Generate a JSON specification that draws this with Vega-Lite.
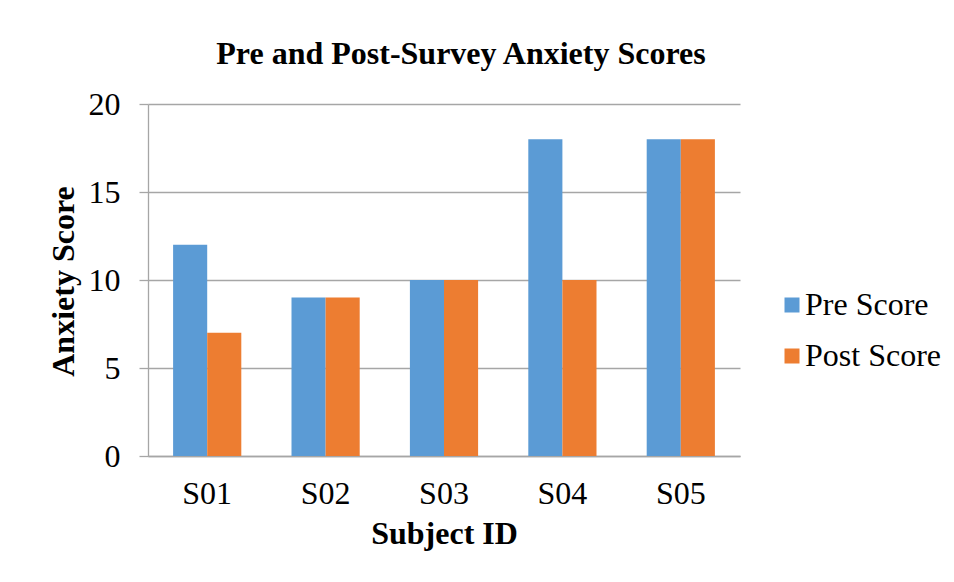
{
  "$schema": "https://vega.github.io/schema/vega-lite/v6.json",
  "width": 592,
  "height": 352,
  "autosize": {"type": "none"},
  "padding": {"left": 148, "top": 104, "right": 214, "bottom": 126},
  "background": "white",
  "title": {
    "text": "Pre and Post-Survey Anxiety Scores",
    "font": "Liberation Serif",
    "fontSize": 32,
    "fontWeight": "bold",
    "color": "black",
    "anchor": "middle",
    "baseline": "alphabetic",
    "dx": 17,
    "offset": -8
  },
  "data": {
    "values": [
      {"subject": "S01", "series": "Pre Score", "score": 12},
      {"subject": "S01", "series": "Post Score", "score": 7},
      {"subject": "S02", "series": "Pre Score", "score": 9},
      {"subject": "S02", "series": "Post Score", "score": 9},
      {"subject": "S03", "series": "Pre Score", "score": 10},
      {"subject": "S03", "series": "Post Score", "score": 10},
      {"subject": "S04", "series": "Pre Score", "score": 18},
      {"subject": "S04", "series": "Post Score", "score": 10},
      {"subject": "S05", "series": "Pre Score", "score": 18},
      {"subject": "S05", "series": "Post Score", "score": 18}
    ]
  },
  "mark": {"type": "bar"},
  "encoding": {
    "x": {
      "field": "subject",
      "type": "nominal",
      "scale": {"paddingInner": 0.424, "paddingOuter": 0.212},
      "axis": {
        "title": "Subject ID",
        "labelAngle": 0,
        "ticks": false,
        "labelPadding": 22,
        "labelFont": "Liberation Serif",
        "labelFontSize": 32,
        "labelColor": "black",
        "domainColor": "#a6a6a6",
        "domainWidth": 1.3,
        "titleFont": "Liberation Serif",
        "titleFontSize": 32,
        "titleFontWeight": "bold",
        "titleColor": "black",
        "titleBaseline": "alphabetic",
        "titleY": 87
      }
    },
    "xOffset": {"field": "series", "sort": ["Pre Score", "Post Score"]},
    "y": {
      "field": "score",
      "type": "quantitative",
      "scale": {"domain": [0, 20]},
      "axis": {
        "values": [0, 5, 10, 15, 20],
        "title": "Anxiety Score",
        "grid": true,
        "gridColor": "#a6a6a6",
        "gridWidth": 1.3,
        "domainColor": "#a6a6a6",
        "domainWidth": 1.3,
        "tickColor": "#a6a6a6",
        "tickWidth": 1.3,
        "tickSize": 9,
        "labelPadding": 19,
        "labelFont": "Liberation Serif",
        "labelFontSize": 32,
        "labelColor": "black",
        "titleFont": "Liberation Serif",
        "titleFontSize": 32,
        "titleFontWeight": "bold",
        "titleColor": "black",
        "titleBaseline": "alphabetic",
        "titleX": -75,
        "titleY": 177
      }
    },
    "color": {
      "field": "series",
      "type": "nominal",
      "sort": ["Pre Score", "Post Score"],
      "scale": {"domain": ["Pre Score", "Post Score"], "range": ["#5b9bd5", "#ed7d31"]},
      "legend": {
        "title": null,
        "orient": "none",
        "legendX": 628,
        "legendY": 185,
        "padding": 0,
        "symbolType": "square",
        "symbolSize": 225,
        "symbolStrokeWidth": 0,
        "symbolOpacity": 1,
        "labelFont": "Liberation Serif",
        "labelFontSize": 32,
        "labelColor": "black",
        "labelOffset": -3,
        "rowPadding": 19,
        "labelLimit": 400,
        "encode": {
          "labels": {"update": {"font": {"value": "Liberation Serif"}, "fontSize": {"value": 32}}}
        }
      }
    }
  },
  "config": {
    "view": {"stroke": null},
    "font": "Liberation Serif",
    "legend": {"labelFont": "Liberation Serif", "labelFontSize": 32, "labelColor": "black"}
  }
}
